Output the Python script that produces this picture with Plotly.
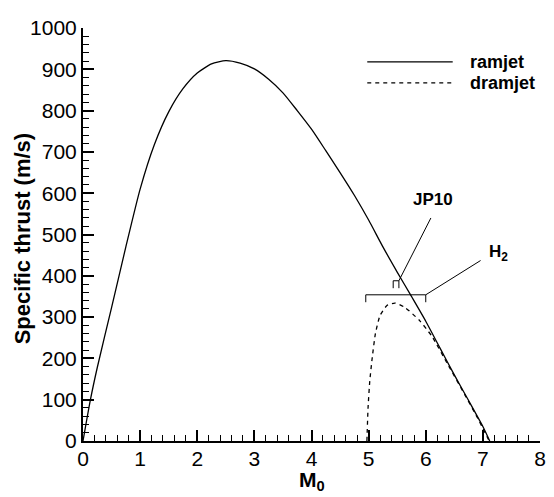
import plotly.graph_objects as go

# ---- data ----
mach_ramjet = [0, 0.13, 0.25, 0.5, 0.75, 1.0, 1.25, 1.5, 1.75, 2.0, 2.25, 2.5, 2.75,
               3.0, 3.25, 3.5, 3.75, 4.0, 4.25, 4.5, 4.75, 5.0, 5.25, 5.5, 5.75,
               6.0, 6.25, 6.5, 6.75, 7.0, 7.12]
thrust_ramjet = [0, 100, 178, 323, 470, 610, 718, 797, 853, 891, 913, 921, 915,
                 901, 876, 843, 800, 755, 703, 650, 595, 535, 470, 409, 350,
                 290, 225, 160, 98, 35, 0]

mach_dramjet = [4.97, 4.99, 5.02, 5.06, 5.12, 5.2, 5.32, 5.46, 5.63, 5.89, 6.11,
                6.4, 6.68, 6.91, 7.1]
thrust_dramjet = [0, 80, 145, 198, 261, 304, 328, 334, 324, 292, 253,
                  182, 113, 55, 3]

# annotation geometry (brackets and leader lines), data units
h2_bracket_x = [4.95, 4.95, 6.0, 6.0]
h2_bracket_y = [336, 354, 354, 336]
h2_leader_x = [6.0, 6.96]
h2_leader_y = [354, 437]
jp10_bracket_x = [5.43, 5.43, 5.53, 5.53]
jp10_bracket_y = [370, 388, 388, 370]
jp10_leader_x = [5.53, 6.09]
jp10_leader_y = [388, 540]

FONT = "Liberation Sans, Arial, sans-serif"

fig = go.Figure()
fig.add_trace(go.Scatter(x=mach_ramjet, y=thrust_ramjet, mode="lines",
                         line=dict(color="black", width=1.3, shape="spline", smoothing=0.6),
                         showlegend=False))
fig.add_trace(go.Scatter(x=mach_dramjet, y=thrust_dramjet, mode="lines",
                         line=dict(color="black", width=1.3, dash="4px,4px",
                                   shape="spline", smoothing=0.5),
                         showlegend=False))
for xs, ys in [(h2_bracket_x, h2_bracket_y), (h2_leader_x, h2_leader_y),
               (jp10_bracket_x, jp10_bracket_y), (jp10_leader_x, jp10_leader_y)]:
    fig.add_trace(go.Scatter(x=xs, y=ys, mode="lines",
                             line=dict(color="black", width=1), showlegend=False,
                             hoverinfo="skip"))

axis_common = dict(showline=True, linewidth=2, linecolor="black", mirror=False,
                   showgrid=False, zeroline=False, ticks="inside", ticklen=11,
                   tickwidth=2, tickcolor="black", ticklabeloverflow="allow",
                   tickfont=dict(family=FONT, size=21, color="black"))

fig.update_xaxes(range=[0, 8], dtick=1, tick0=0, ticklabelstandoff=-2,
                 minor=dict(ticks="inside", ticklen=6, tickwidth=1, tickcolor="black",
                            dtick=0.2, showgrid=False),
                 **axis_common)
fig.update_yaxes(range=[0, 1000], dtick=100, tick0=0,
                 minor=dict(ticks="inside", ticklen=6, tickwidth=1, tickcolor="black",
                            dtick=20, showgrid=False),
                 **axis_common)

annotations = [
    dict(text="<b>Specific thrust (m/s)</b>", xref="paper", yref="paper",
         x=-0.132, y=0.49, textangle=-90, showarrow=False,
         font=dict(family=FONT, size=22, color="black"),
         xanchor="center", yanchor="middle"),
    dict(text="<b>M<sub>0</sub></b>", xref="x", yref="paper",
         x=4.0, y=-0.132, showarrow=False,
         font=dict(family=FONT, size=21, color="black"),
         xanchor="center", yanchor="bottom"),
    dict(text="<b>ramjet</b>", xref="paper", yref="paper", x=0.842, y=0.918,
         showarrow=False, xanchor="left", yanchor="middle",
         font=dict(family=FONT, size=18, color="black")),
    dict(text="<b>dramjet</b>", xref="paper", yref="paper", x=0.842, y=0.867,
         showarrow=False, xanchor="left", yanchor="middle",
         font=dict(family=FONT, size=18, color="black")),
    dict(text="<b>JP10</b>", xref="x", yref="y", x=6.12, y=585,
         showarrow=False, xanchor="center", yanchor="middle",
         font=dict(family=FONT, size=17, color="black")),
    dict(text="<b>H<sub>2</sub></b>", xref="x", yref="y", x=7.08, y=455,
         showarrow=False, xanchor="left", yanchor="middle",
         font=dict(family=FONT, size=17, color="black")),
]

shapes = [
    dict(type="line", xref="paper", yref="paper", x0=0.622, x1=0.809,
         y0=0.918, y1=0.918, line=dict(color="black", width=1.3)),
    dict(type="line", xref="paper", yref="paper", x0=0.622, x1=0.809,
         y0=0.867, y1=0.867, line=dict(color="black", width=1.3, dash="4px,4px")),
]

# the page body has an 8px margin, so the figure is 8px smaller than the window
fig.update_layout(width=546, height=489, autosize=False,
                  margin=dict(l=75, r=8, t=9, b=56),
                  paper_bgcolor="white", plot_bgcolor="white",
                  annotations=annotations, shapes=shapes,
                  font=dict(family=FONT, color="black"))

fig.write_html("out.html")
